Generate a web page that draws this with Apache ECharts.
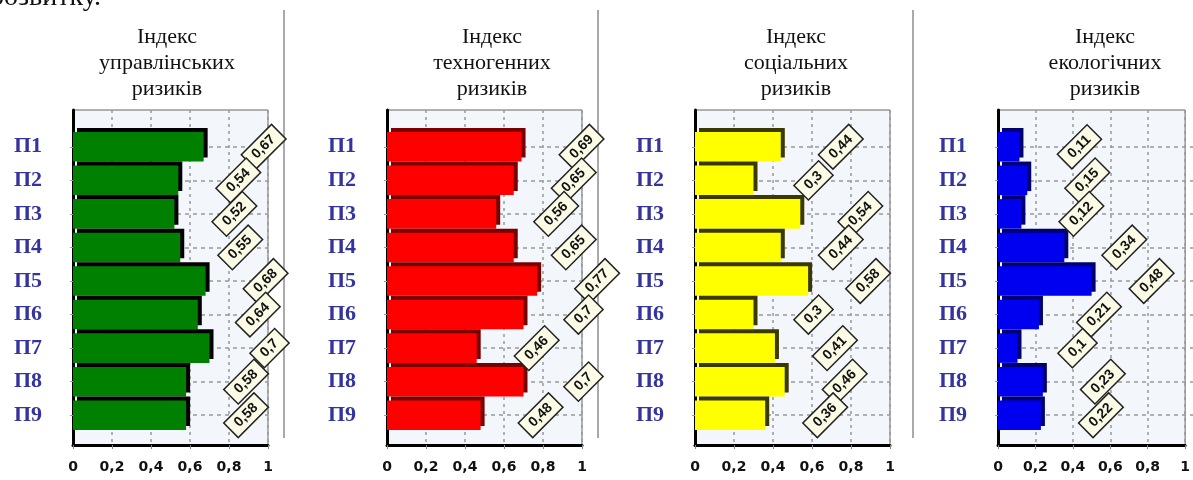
<!DOCTYPE html>
<html>
<head>
<meta charset="utf-8">
<script src="https://cdn.jsdelivr.net/npm/echarts@6/dist/echarts.min.js"></script>
<style>html,body{margin:0;padding:0;background:#fff;}#c{width:1193px;height:480px;}</style>
</head>
<body>
<div id="c"></div>
<script>
const categories = ['П1','П2','П3','П4','П5','П6','П7','П8','П9'];
const panelTitles = ['Індекс\nуправлінських\nризиків','Індекс\nтехногенних\nризиків','Індекс\nсоціальних\nризиків','Індекс\nекологічних\nризиків'];
const xTickLabels = ['0','0,2','0,4','0,6','0,8','1'];
const managementValues = [0.67,0.54,0.52,0.55,0.68,0.64,0.70,0.58,0.58];
const technogenicValues = [0.69,0.65,0.56,0.65,0.77,0.70,0.46,0.70,0.48];
const socialValues = [0.44,0.30,0.54,0.44,0.58,0.30,0.41,0.46,0.36];
const ecologicalValues = [0.11,0.15,0.12,0.34,0.48,0.21,0.10,0.23,0.22];

const panelValues = [managementValues, technogenicValues, socialValues, ecologicalValues];
const barColors = ['#008000','#ff0000','#ffff00','#0000f0'];
const shadowColors = ['#000000','#7a0000','#3a3a00','#000070'];
const panelLefts = [73, 387, 695, 998];
const titleCenters = [162, 487, 791, 1100];
const plotWidth = 195;

const grids = [], xAxes = [], yAxes = [], series = [], titles = [];
panelValues.forEach((vals, i) => {
  const L = panelLefts[i];
  grids.push({left: L, width: plotWidth, top: 110, bottom: 35, show: true,
    backgroundColor: '#f3f7fb', borderColor: '#666', borderWidth: 1});
  grids.push({left: L, width: plotWidth, top: 130, height: 302});
  const fg = i * 2, dg = i * 2 + 1;
  xAxes.push({gridIndex: fg, type: 'value', min: 0, max: 1, interval: 0.2,
    axisLine: {show: true, lineStyle: {color: '#000', width: 3}},
    axisTick: {show: true, length: 4, lineStyle: {color: '#888'}},
    splitLine: {show: true, lineStyle: {type: [3, 4], color: '#999', width: 1.5}},
    axisLabel: {margin: 15, fontSize: 14, fontWeight: 'bold', color: '#111',
      fontFamily: 'DejaVu Sans', formatter: (v, idx) => xTickLabels[idx]}});
  xAxes.push({gridIndex: dg, type: 'value', min: 0, max: 1, show: false});
  yAxes.push({gridIndex: fg, type: 'value', min: 0, max: 1,
    axisLine: {show: true, lineStyle: {color: '#000', width: 3}},
    axisTick: {show: false}, axisLabel: {show: false}, splitLine: {show: false}});
  yAxes.push({gridIndex: dg, type: 'category', data: categories, inverse: true,
    axisLine: {show: false},
    axisTick: {show: true, alignWithLabel: true, length: 3, lineStyle: {color: '#999'}},
    splitLine: {show: false},
    axisLabel: {margin: 31, fontSize: 22, fontWeight: 'bold', color: '#3434a0',
      fontFamily: 'Liberation Serif'}});
  series.push({type: 'bar', xAxisIndex: i * 2 + 1, yAxisIndex: i * 2 + 1,
    data: vals, barCategoryGap: '12%', z: 3,
    itemStyle: {color: barColors[i], shadowColor: shadowColors[i],
      shadowOffsetX: 4, shadowOffsetY: -4, shadowBlur: 0},
    label: {show: true, position: 'right', distance: 60, rotate: 45,
      align: 'center', verticalAlign: 'middle',
      formatter: p => String(p.value).replace('.', ','),
      fontSize: 14, fontWeight: 'bold', fontFamily: 'Liberation Sans', color: '#111',
      backgroundColor: '#fbfbe6', borderColor: '#222', borderWidth: 1.5,
      padding: [3, 7, 2, 7]},
    markLine: {silent: true, z: 1, symbol: 'none', label: {show: false},
      lineStyle: {type: [4, 4], color: '#999', width: 1.5},
      data: categories.map(c => ({yAxis: c}))}
  });
  titles.push({text: panelTitles[i], left: titleCenters[i], top: 19, textAlign: 'center',
    textStyle: {fontFamily: 'Liberation Serif', fontSize: 22, fontWeight: 'normal',
      color: '#111', lineHeight: 26}});
});

const chart = echarts.init(document.getElementById('c'));
chart.setOption({
  animation: false,
  backgroundColor: '#ffffff',
  title: titles,
  grid: grids, xAxis: xAxes, yAxis: yAxes, series: series,
  graphic: [
    {type: 'text', left: -10, top: -16, style: {text: 'розвитку.', font: '28px "Liberation Serif"', fill: '#111'}},
    {type: 'line', shape: {x1: 284, y1: 10, x2: 284, y2: 438}, style: {stroke: '#aaa', lineWidth: 2}},
    {type: 'line', shape: {x1: 598, y1: 10, x2: 598, y2: 438}, style: {stroke: '#aaa', lineWidth: 2}},
    {type: 'line', shape: {x1: 913, y1: 10, x2: 913, y2: 438}, style: {stroke: '#aaa', lineWidth: 2}}
  ]
});
</script>
</body>
</html>
